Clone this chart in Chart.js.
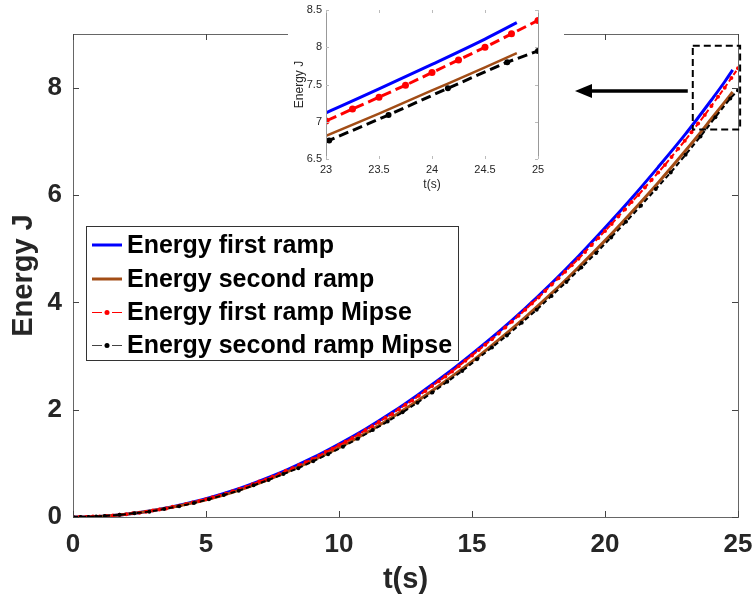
<!DOCTYPE html>
<html>
<head>
<meta charset="utf-8">
<script src="https://cdn.jsdelivr.net/npm/chart.js@4/dist/chart.umd.min.js"></script>
<style>
html, body { margin: 0; padding: 0; background: #fff; }
#wrap { position: relative; width: 755px; height: 606px; overflow: hidden; }
#main { position: absolute; left: 0; top: 0; }
#insetBox { position: absolute; left: 288px; top: 0; width: 276px; height: 192px; background: #fff; }
</style>
</head>
<body>
<div id="wrap">
  <canvas id="main" width="755" height="606"></canvas>
  <div id="insetBox"><canvas id="inset" width="276" height="192"></canvas></div>
</div>
<script>
const FONT = '"Liberation Sans", Arial, Helvetica, sans-serif'

// blue: Energy first ramp
const blueT = [0, 1, 2, 3, 4, 5, 6, 7, 8, 9, 10, 11, 12, 13, 14, 15, 16, 17, 18, 19, 20, 21, 22, 23, 23.5, 24, 24.5, 24.8]
const blueE = [0, 0.01, 0.05, 0.12, 0.22, 0.34, 0.49, 0.67, 0.87, 1.10, 1.36, 1.64, 1.95, 2.29, 2.65, 3.04, 3.45, 3.89, 4.36, 4.86, 5.39, 5.94, 6.52, 7.12, 7.44, 7.77, 8.11, 8.33]

// brown: Energy second ramp
const brownT = [0, 1, 2, 3, 4, 5, 6, 7, 8, 9, 10, 11, 12, 13, 14, 15, 16, 17, 18, 19, 20, 21, 22, 23, 23.5, 24, 24.5, 24.8]
const brownE = [0, 0.01, 0.05, 0.12, 0.21, 0.32, 0.46, 0.63, 0.83, 1.05, 1.29, 1.56, 1.86, 2.18, 2.53, 2.90, 3.30, 3.72, 4.17, 4.65, 5.15, 5.68, 6.23, 6.81, 7.11, 7.42, 7.73, 7.92]

// red: Energy first ramp Mipse
const redT = [0, 0.25, 0.5, 0.75, 1, 1.25, 1.5, 1.75, 2, 2.25, 2.5, 2.75, 3, 3.25, 3.5, 3.75, 4, 4.25, 4.5, 4.75,
  5, 5.25, 5.5, 5.75, 6, 6.25, 6.5, 6.75, 7, 7.25, 7.5, 7.75, 8, 8.25, 8.5, 8.75, 9, 9.25, 9.5, 9.75,
  10, 10.25, 10.5, 10.75, 11, 11.25, 11.5, 11.75, 12, 12.25, 12.5, 12.75, 13, 13.25, 13.5, 13.75, 14, 14.25, 14.5, 14.75,
  15, 15.25, 15.5, 15.75, 16, 16.25, 16.5, 16.75, 17, 17.25, 17.5, 17.75, 18, 18.25, 18.5, 18.75, 19, 19.25, 19.5, 19.75,
  20, 20.25, 20.5, 20.75, 21, 21.25, 21.5, 21.75, 22, 22.25, 22.5, 22.75, 23, 23.25, 23.5, 23.75, 24, 24.25, 24.5, 24.75, 25]
const redE = [0, 0, 0, 0.01, 0.01, 0.02, 0.03, 0.04, 0.05, 0.07, 0.08, 0.10, 0.12, 0.14, 0.16, 0.19, 0.21, 0.24, 0.27, 0.30,
  0.33, 0.37, 0.40, 0.44, 0.48, 0.52, 0.56, 0.61, 0.66, 0.70, 0.75, 0.80, 0.86, 0.91, 0.97, 1.02, 1.08, 1.14, 1.21, 1.27,
  1.34, 1.40, 1.47, 1.54, 1.62, 1.69, 1.77, 1.85, 1.92, 2.01, 2.09, 2.17, 2.26, 2.35, 2.44, 2.53, 2.62, 2.71, 2.81, 2.91,
  3.01, 3.11, 3.21, 3.31, 3.42, 3.53, 3.64, 3.75, 3.86, 3.98, 4.09, 4.21, 4.33, 4.45, 4.57, 4.69, 4.81, 4.94, 5.07, 5.20,
  5.33, 5.46, 5.60, 5.73, 5.87, 6.00, 6.14, 6.28, 6.42, 6.56, 6.71, 6.86, 7.01, 7.17, 7.33, 7.49, 7.66, 7.83, 8.00, 8.18, 8.36]

// black: Energy second ramp Mipse
const blackT = [0, 0.29, 0.58, 0.87, 1.19, 1.75, 2.31, 2.87, 3.43, 3.99, 4.55, 5.11, 5.67, 6.23,
  6.79, 7.35, 7.91, 8.47, 9.03, 9.59, 10.15, 10.71, 11.27, 11.83, 12.39, 12.95, 13.51, 14.07, 14.63, 15.19,
  15.75, 16.31, 16.87, 17.43, 17.99, 18.55, 19.11, 19.67, 20.23, 20.79, 21.35, 21.91, 22.47, 23.03, 23.59, 24.15, 24.71, 25]
const blackE = [0, 0, 0, 0.01, 0.02, 0.04, 0.07, 0.10, 0.15, 0.20, 0.26, 0.33, 0.41, 0.49,
  0.59, 0.69, 0.80, 0.91, 1.04, 1.17, 1.31, 1.46, 1.62, 1.78, 1.95, 2.13, 2.32, 2.52, 2.72, 2.94,
  3.16, 3.38, 3.62, 3.86, 4.12, 4.38, 4.65, 4.92, 5.21, 5.50, 5.80, 6.11, 6.42, 6.75, 7.09, 7.45, 7.80, 7.95]

const xTicks = [0, 5, 10, 15, 20, 25]
const yTicks = [0, 2, 4, 6, 8]
const insetXTicks = [23, 23.5, 24, 24.5, 25]
const insetYTicks = [6.5, 7, 7.5, 8, 8.5]
const legendLabels = ['Energy first ramp', 'Energy second ramp', 'Energy first ramp Mipse', 'Energy second ramp Mipse']

const BLUE = '#0000ff'
const BROWN = '#a24d16'
const RED = '#ff0000'
const BLACK = '#000000'

const pts = (ts, es) => ts.map((t, i) => ({ x: t, y: es[i] }))

const makeDatasets = big => [
    { label: legendLabels[0], data: pts(blueT, blueE), borderColor: BLUE, borderWidth: 3,
      pointRadius: 0, cubicInterpolationMode: 'monotone', order: 3 },
    { label: legendLabels[1], data: pts(brownT, brownE), borderColor: BROWN, borderWidth: big ? 2.5 : 3,
      pointRadius: 0, cubicInterpolationMode: 'monotone', order: 2 },
    { label: legendLabels[2], data: pts(redT, redE), borderColor: RED, borderWidth: big ? 3 : 2,
      borderDash: big ? [10, 5] : [5, 3], pointRadius: big ? 3.5 : 2, pointBackgroundColor: RED,
      pointBorderWidth: 0, order: 1 },
    { label: legendLabels[3], data: pts(blackT, blackE), borderColor: BLACK, borderWidth: big ? 3 : 2,
      borderDash: big ? [10, 5] : [5, 3], pointRadius: big ? 3 : 2, pointBackgroundColor: BLACK,
      pointBorderWidth: 0, order: 0 }
]

const axisOpt = (min, max, ticks, fit, size, pad) => ({
    type: 'linear', min, max,
    afterBuildTicks: s => { s.ticks = ticks.map(v => ({ value: v })) },
    afterFit: fit,
    grid: { display: false, drawTicks: false },
    border: { display: false },
    ticks: { font: { family: FONT, size: size.px, weight: size.w }, color: '#262626', padding: pad,
             maxRotation: 0, autoSkip: false, callback: v => String(v) }
})

// keep tick labels from eating into the plot width
const fixX = h => s => { s.height = h; s.paddingLeft = 0; s.paddingRight = 0 }
const fixY = w => s => { s.width = w; s.paddingTop = 0; s.paddingBottom = 0 }

// inward tick marks on all four sides
const drawTicks = (chart, xs, ys, len, color) => {
    const { ctx, chartArea: a, scales } = chart
    ctx.save()
    ctx.strokeStyle = color
    ctx.lineWidth = 1
    ctx.beginPath()
    xs.forEach(v => {
        const p = Math.round(scales.x.getPixelForValue(v)) + 0.5
        ctx.moveTo(p, a.bottom); ctx.lineTo(p, a.bottom - len)
        ctx.moveTo(p, a.top); ctx.lineTo(p, a.top + len)
    })
    ys.forEach(v => {
        const p = Math.round(scales.y.getPixelForValue(v)) + 0.5
        ctx.moveTo(a.left, p); ctx.lineTo(a.left + len, p)
        ctx.moveTo(a.right, p); ctx.lineTo(a.right - len, p)
    })
    ctx.stroke()
    ctx.restore()
}

const drawLegend = ctx => {
    ctx.save()
    const bx = 86, by = 226, bw = 372, bh = 134
    ctx.fillStyle = '#fff'
    ctx.fillRect(bx, by, bw, bh)
    ctx.strokeStyle = '#333'
    ctx.lineWidth = 1
    ctx.strokeRect(bx + 0.5, by + 0.5, bw, bh)
    const rows = [245, 279, 312, 345]
    const x0 = 92, x1 = 122
    ctx.lineWidth = 3
    ctx.strokeStyle = BLUE
    ctx.beginPath(); ctx.moveTo(x0, rows[0]); ctx.lineTo(x1, rows[0]); ctx.stroke()
    ctx.strokeStyle = BROWN
    ctx.beginPath(); ctx.moveTo(x0, rows[1]); ctx.lineTo(x1, rows[1]); ctx.stroke()
    ;[[RED, RED, rows[2]], ['#444', BLACK, rows[3]]].forEach(([lc, mc, y]) => {
        ctx.lineWidth = 1
        ctx.strokeStyle = lc
        ctx.beginPath(); ctx.moveTo(x0, y + 0.5); ctx.lineTo(x0 + 10, y + 0.5)
        ctx.moveTo(x1 - 10, y + 0.5); ctx.lineTo(x1, y + 0.5); ctx.stroke()
        ctx.fillStyle = mc
        ctx.beginPath(); ctx.arc((x0 + x1) / 2, y + 0.5, 2.5, 0, Math.PI * 2); ctx.fill()
    })
    ctx.fillStyle = '#000'
    ctx.font = `bold 25px ${FONT}`
    ctx.textBaseline = 'middle'
    ctx.textAlign = 'left'
    legendLabels.forEach((t, i) => ctx.fillText(t, 127, rows[i] + 1))
    ctx.restore()
}

const mainDecor = {
    id: 'mainDecor',
    afterDraw: chart => {
        const { ctx, chartArea: a, scales } = chart
        ctx.save()
        ctx.strokeStyle = '#666'
        ctx.lineWidth = 1
        ctx.strokeRect(Math.round(a.left) + 0.5, Math.round(a.top) + 0.5, Math.round(a.right - a.left), Math.round(a.bottom - a.top))
        ctx.restore()
        drawTicks(chart, xTicks, yTicks, 6, '#444')

        ctx.save()
        ctx.fillStyle = '#262626'
        ctx.font = `bold 29px ${FONT}`
        ctx.textAlign = 'center'
        ctx.textBaseline = 'middle'
        ctx.fillText('t(s)', (a.left + a.right) / 2, 580)
        ctx.translate(24, (a.top + a.bottom) / 2)
        ctx.rotate(-Math.PI / 2)
        ctx.fillText('Energy J', 0, 0)
        ctx.restore()

        drawLegend(ctx)

        // dashed zoom box around the curve ends
        const zx0 = scales.x.getPixelForValue(23.3), zx1 = scales.x.getPixelForValue(25.08)
        const zy0 = scales.y.getPixelForValue(8.78), zy1 = scales.y.getPixelForValue(7.22)
        ctx.save()
        ctx.strokeStyle = '#000'
        ctx.lineWidth = 2
        ctx.setLineDash([7, 4])
        ctx.strokeRect(zx0, zy0, zx1 - zx0, zy1 - zy0)
        ctx.setLineDash([])

        // arrow pointing to the inset
        const ay = 91, ax0 = zx0 - 5, ax1 = 575
        ctx.lineWidth = 3.5
        ctx.beginPath(); ctx.moveTo(ax0, ay); ctx.lineTo(ax1 + 14, ay); ctx.stroke()
        ctx.fillStyle = '#000'
        ctx.beginPath(); ctx.moveTo(ax1, ay); ctx.lineTo(ax1 + 17, ay - 7); ctx.lineTo(ax1 + 17, ay + 7); ctx.closePath(); ctx.fill()
        ctx.restore()
    }
}

const insetDecor = {
    id: 'insetDecor',
    afterDraw: chart => {
        const { ctx, chartArea: a } = chart
        ctx.save()
        ctx.strokeStyle = '#999'
        ctx.lineWidth = 1
        ctx.beginPath()
        ctx.moveTo(Math.round(a.left) + 0.5, a.top); ctx.lineTo(Math.round(a.left) + 0.5, a.bottom)
        ctx.moveTo(Math.round(a.right) + 0.5, a.top); ctx.lineTo(Math.round(a.right) + 0.5, a.bottom)
        ctx.stroke()
        ctx.restore()
        drawTicks(chart, insetXTicks, insetYTicks, 3, '#bbb')

        ctx.save()
        ctx.fillStyle = '#262626'
        ctx.font = `12px ${FONT}`
        ctx.textAlign = 'center'
        ctx.textBaseline = 'middle'
        ctx.fillText('t(s)', (a.left + a.right) / 2, 185)
        ctx.translate(12, (a.top + a.bottom) / 2)
        ctx.rotate(-Math.PI / 2)
        ctx.fillText('Energy J', 0, 0)
        ctx.restore()
    }
}

new Chart(document.getElementById('main').getContext('2d'), {
    type: 'line',
    data: { datasets: makeDatasets(false) },
    options: {
        responsive: false,
        animation: false,
        layout: { padding: { top: 34, right: 17, left: 0, bottom: 0 } },
        plugins: { legend: { display: false }, tooltip: { enabled: false } },
        scales: {
            x: axisOpt(0, 25, xTicks, fixX(89), { px: 26, w: 'bold' }, 12),
            y: axisOpt(0, 9, yTicks, fixY(73), { px: 26, w: 'bold' }, 11)
        }
    },
    plugins: [mainDecor]
})

new Chart(document.getElementById('inset').getContext('2d'), {
    type: 'line',
    data: { datasets: makeDatasets(true) },
    options: {
        responsive: false,
        animation: false,
        layout: { padding: { top: 10, right: 26, left: 0, bottom: 0 } },
        plugins: { legend: { display: false }, tooltip: { enabled: false } },
        scales: {
            x: axisOpt(23, 25, insetXTicks, fixX(33), { px: 11, w: 'normal' }, 4),
            y: axisOpt(6.5, 8.5, insetYTicks, fixY(38), { px: 11, w: 'normal' }, 4)
        }
    },
    plugins: [insetDecor]
})
</script>
</body>
</html>
